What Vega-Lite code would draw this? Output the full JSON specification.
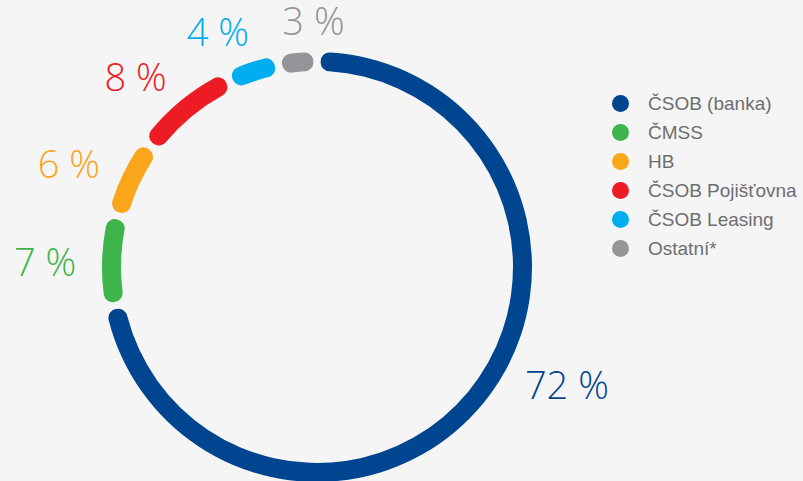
{
  "$schema": "https://vega.github.io/schema/vega-lite/v6.json",
  "width": 634,
  "height": 534,
  "autosize": {"type": "none"},
  "padding": {"left": 0, "top": 0, "right": 169, "bottom": 0},
  "background": "#f5f5f5",
  "config": {"view": {"stroke": null}},
  "data": {"values": [
    {"i": 1, "name": "ČSOB (banka)", "share": 72, "label": "72 %"},
    {"i": 2, "name": "ČMSS", "share": 7, "label": "7 %"},
    {"i": 3, "name": "HB", "share": 6, "label": "6 %"},
    {"i": 4, "name": "ČSOB Pojišťovna", "share": 8, "label": "8 %"},
    {"i": 5, "name": "ČSOB Leasing", "share": 4, "label": "4 %"},
    {"i": 6, "name": "Ostatní*", "share": 3, "label": "3 %"}
  ]},
  "encoding": {
    "theta": {"field": "share", "type": "quantitative", "stack": true},
    "order": {"field": "i", "type": "quantitative"},
    "color": {
      "field": "name",
      "type": "nominal",
      "scale": {
        "domain": ["ČSOB (banka)", "ČMSS", "HB", "ČSOB Pojišťovna", "ČSOB Leasing", "Ostatní*"],
        "range": ["#004590", "#3db54a", "#faa61a", "#ed1c24", "#00aeef", "#939598"]
      },
      "legend": {
        "title": null,
        "orient": "none",
        "legendX": 611,
        "legendY": 94,
        "symbolType": "circle",
        "symbolSize": 289,
        "symbolStrokeWidth": 0,
        "labelFont": "Liberation Sans",
        "labelFontSize": 19,
        "labelColor": "#6d6e71",
        "labelOffset": 18,
        "rowPadding": 9,
        "padding": 0,
        "labelLimit": 300
      }
    }
  },
  "layer": [
    {"mark": {"type": "arc", "outerRadius": 215, "innerRadius": 196, "cornerRadius": 9, "padAngle": 0.025}},
    {
      "mark": {"type": "text", "radius": 262, "dx": 48, "dy": -46, "fontSize": 38, "font": "Open Sans", "fontWeight": 300, "align": "center", "baseline": "middle"},
      "encoding": {"text": {"condition": {"test": "datum.i === 1", "field": "label", "type": "nominal"}, "value": ""}}
    },
    {
      "mark": {"type": "text", "radius": 250, "dx": 20, "dy": 6, "fontSize": 38, "font": "Open Sans", "fontWeight": 300, "align": "center", "baseline": "middle"},
      "encoding": {"text": {"condition": {"test": "datum.i === 6", "field": "label", "type": "nominal"}, "value": ""}}
    },
    {
      "mark": {"type": "text", "radius": 250, "dx": -22, "dy": 6, "fontSize": 38, "font": "Open Sans", "fontWeight": 300, "align": "center", "baseline": "middle"},
      "encoding": {"text": {"condition": {"test": "datum.i > 1 && datum.i < 6", "field": "label", "type": "nominal"}, "value": ""}}
    }
  ]
}
